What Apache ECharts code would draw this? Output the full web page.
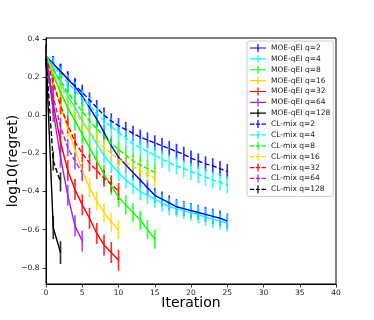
<!DOCTYPE html>
<html>
<head>
<meta charset="utf-8">
<script src="https://cdn.jsdelivr.net/npm/echarts@6/dist/echarts.min.js"></script>
<style>
html, body { margin: 0; padding: 0; background: #fff; }
#chart { width: 374px; height: 320px; }
</style>
</head>
<body>
<div id="chart"></div>
<script>
// log10(regret) per iteration (index = iteration)
var moe2   = [0.31, 0.27, 0.23, 0.19, 0.15, 0.10, 0.04, -0.02, -0.09, -0.16, -0.22, -0.26, -0.30, -0.34, -0.38, -0.42, -0.44, -0.46, -0.48, -0.49, -0.50, -0.51, -0.52, -0.53, -0.54, -0.555];
var moe4   = [0.31, 0.24, 0.17, 0.10, 0.04, -0.03, -0.09, -0.15, -0.21, -0.26, -0.30, -0.34, -0.37, -0.40, -0.42, -0.44, -0.46, -0.48, -0.49, -0.50, -0.51, -0.52, -0.535, -0.545, -0.555, -0.565];
var moe8   = [0.31, 0.21, 0.12, 0.04, -0.03, -0.10, -0.17, -0.24, -0.31, -0.37, -0.43, -0.47, -0.51, -0.55, -0.60, -0.65];
var moe16  = [0.31, 0.17, 0.05, -0.07, -0.18, -0.29, -0.38, -0.45, -0.51, -0.56, -0.60];
var moe32  = [0.31, 0.06, -0.14, -0.29, -0.39, -0.47, -0.54, -0.62, -0.68, -0.72, -0.76];
var moe64  = [0.31, 0.02, -0.22, -0.42, -0.58, -0.66];
var moe128 = [0.31, -0.59, -0.72];

var cl2   = [0.31, 0.27, 0.23, 0.19, 0.155, 0.12, 0.08, 0.04, 0.0, -0.03, -0.055, -0.075, -0.095, -0.115, -0.13, -0.145, -0.16, -0.175, -0.19, -0.205, -0.225, -0.24, -0.255, -0.265, -0.28, -0.295];
var cl4   = [0.31, 0.26, 0.21, 0.17, 0.13, 0.09, 0.05, 0.01, -0.03, -0.06, -0.09, -0.12, -0.15, -0.17, -0.19, -0.21, -0.23, -0.25, -0.265, -0.28, -0.295, -0.31, -0.325, -0.34, -0.35, -0.365];
var cl8   = [0.31, 0.24, 0.18, 0.12, 0.07, 0.02, -0.03, -0.07, -0.11, -0.15, -0.18, -0.21, -0.24, -0.26, -0.28, -0.30];
var cl16  = [0.31, 0.22, 0.15, 0.08, 0.02, -0.04, -0.09, -0.13, -0.17, -0.20, -0.23, -0.25, -0.27, -0.29, -0.31, -0.33];
var cl32  = [0.31, 0.17, 0.05, -0.05, -0.14, -0.20, -0.25, -0.29, -0.33, -0.36, -0.40];
var cl64  = [0.31, 0.10, -0.06, -0.17, -0.24, -0.30];
var cl128 = [0.31, -0.24, -0.35];

// half length of the error bars, one per curve
var moeErr = [0.04, 0.045, 0.05, 0.05, 0.055, 0.055, 0.06];
var clErr  = [0.04, 0.045, 0.045, 0.045, 0.045, 0.045, 0.05];

var qValues = [2, 4, 8, 16, 32, 64, 128];
var colors  = ['#0000ff', '#00ffff', '#00ff00', '#ffd700', '#ff0000', '#a020f0', '#000000'];
var yTicks  = [0.4, 0.2, 0.0, -0.2, -0.4, -0.6, -0.8];

var moeData = [moe2, moe4, moe8, moe16, moe32, moe64, moe128];
var clData  = [cl2, cl4, cl8, cl16, cl32, cl64, cl128];

var solidIcon  = 'path://M0,3.4H16V4.6H0Z M7.4,0H8.6V8H7.4Z';
var dashedIcon = 'path://M0,3.4H4.5V4.6H0Z M6,3.4H10V4.6H6Z M11.5,3.4H16V4.6H11.5Z M7.4,0H8.6V8H7.4Z';

function renderErr(params, api) {
    var x = api.value(0), y = api.value(1), e = api.value(2);
    var p1 = api.coord([x, y + e]);
    var p2 = api.coord([x, y - e]);
    return {
        type: 'line',
        shape: { x1: p1[0], y1: p1[1], x2: p2[0], y2: p2[1] },
        style: { stroke: api.visual('color'), lineWidth: 1.7, opacity: 0.8 }
    };
}

var series = [];
var legendData = [];

function addGroup(prefix, data, errs, dashed) {
    data.forEach(function (vals, k) {
        var name = prefix + ' q=' + qValues[k];
        legendData.push({ name: name, icon: dashed ? dashedIcon : solidIcon });
        series.push({
            name: name,
            type: 'custom',
            renderItem: renderErr,
            itemStyle: { color: colors[k] },
            encode: { x: 0, y: 1 },
            data: vals.map(function (v, i) { return [i, v, errs[k]]; }),
            animation: false
        });
        series.push({
            name: name,
            type: 'line',
            symbol: 'none',
            color: colors[k],
            lineStyle: { width: 1.4, type: dashed ? [5, 2.5] : 'solid' },
            data: vals.map(function (v, i) { return [i, v]; }),
            animation: false
        });
    });
}
addGroup('MOE-qEI', moeData, moeErr, false);
addGroup('CL-mix', clData, clErr, true);

var font = 'DejaVu Sans';
var chart = echarts.init(document.getElementById('chart'));
chart.setOption({
    animation: false,
    grid: {
        left: 46, top: 38, right: 38, bottom: 36,
        containLabel: false, outerBoundsMode: 'none',
        show: true, borderColor: '#000', borderWidth: 1
    },
    xAxis: {
        type: 'value', min: 0, max: 40, interval: 5,
        name: 'Iteration', nameLocation: 'middle', nameGap: 12, nameMoveOverlap: false,
        nameTextStyle: { fontSize: 14, fontFamily: font, color: '#000', verticalAlign: 'top' },
        axisLine: { onZero: false, lineStyle: { color: '#000', width: 1 } },
        axisTick: { length: 3.5, lineStyle: { color: '#000', width: 0.8 } },
        axisLabel: { fontSize: 7.5, fontFamily: font, color: '#222', margin: 5 },
        splitLine: { show: false }
    },
    yAxis: {
        type: 'value', min: -0.885, max: 0.405,
        name: 'log10(regret)', nameLocation: 'middle', nameGap: 26, nameRotate: 90, nameMoveOverlap: false,
        nameTextStyle: { fontSize: 14, fontFamily: font, color: '#000' },
        axisLine: { onZero: false, lineStyle: { color: '#000', width: 1 } },
        axisTick: { length: 3.5, customValues: yTicks, lineStyle: { color: '#000', width: 0.8 } },
        axisLabel: {
            fontSize: 7.5, fontFamily: font, color: '#222', margin: 6.5,
            customValues: yTicks,
            formatter: function (v) {
                var s = Math.abs(v).toFixed(1);
                return v < -1e-9 ? '\u2212' + s : s;
            }
        },
        splitLine: { show: false }
    },
    legend: {
        orient: 'vertical', left: 247, top: 41,
        padding: [3, 3, 3, 3],
        itemWidth: 16, itemHeight: 8, itemGap: 2.87,
        selectedMode: false,
        backgroundColor: '#fff', borderColor: '#ccc', borderWidth: 1, borderRadius: 2,
        textStyle: { fontSize: 7.5, fontFamily: font, color: '#222', lineHeight: 8 },
        data: legendData
    },
    series: series
});
</script>
</body>
</html>
